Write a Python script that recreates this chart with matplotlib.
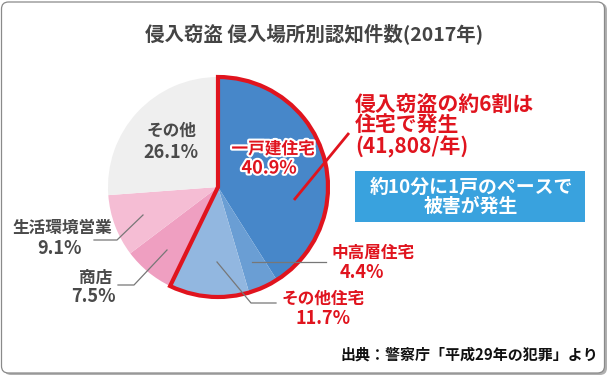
import matplotlib
matplotlib.use("Agg")
import matplotlib.pyplot as plt
import matplotlib.patheffects as pe
from matplotlib.patches import Wedge, FancyBboxPatch, Rectangle
import numpy as np

plt.rcParams['font.family'] = ['Noto Sans CJK JP', 'DejaVu Sans']

categories = ["一戸建住宅", "中高層住宅", "その他住宅", "商店", "生活環境営業", "その他"]
values = [40.9, 4.4, 11.7, 7.5, 9.1, 26.1]
colors = ["#4787c9", "#6a9ed4", "#92b7e0", "#ef9fc1", "#f5bdd4", "#efefef"]
housing = ["一戸建住宅", "中高層住宅", "その他住宅"]
title = "侵入窃盗 侵入場所別認知件数(2017年)"
note = "侵入窃盗の約6割は\n住宅で発生\n(41,808/年)"
box_text = "約10分に1戸のペースで\n被害が発生"
source = "出典：警察庁「平成29年の犯罪」より"

W, H = 609, 376
fig = plt.figure(figsize=(W / 100, H / 100), dpi=100)
ax = fig.add_axes([0, 0, 1, 1])

def Y(y):
    return H - y

# frame with shadow
ax.add_patch(FancyBboxPatch((4, Y(375)), 603, 372, boxstyle="round,pad=0,rounding_size=7",
                            fc="#b0b0b0", ec="none", zorder=0))
ax.add_patch(FancyBboxPatch((1.5, Y(373)), 603, 371, boxstyle="round,pad=0,rounding_size=7",
                            fc="white", ec="#8a8a8a", lw=0.9, zorder=1))

cx, cy, r = 218, Y(187), 110
ax.pie(values, colors=colors, startangle=90, counterclock=False, center=(cx, cy), radius=r,
       wedgeprops=dict(linewidth=0, zorder=2), frame=True)
ax.set_xlim(0, W)
ax.set_ylim(0, H)
ax.set_aspect("equal")
ax.axis("off")

total = sum(values)
hs = sum(v for c, v in zip(categories, values) if c in housing)
ang = hs / total * 360
red = "#e0141e"
ax.add_patch(Wedge((cx, cy), r, 90 - ang, 90, fill=False, ec=red, lw=3.0,
                   joinstyle="miter", zorder=4))

gray_txt = "#4a4a4a"
line_c = "#777777"
fs_lab = 12
fs_pct = 13
fw = "bold"

def lab(x, y, s, color, fs=fs_lab, **kw):
    ax.text(x, Y(y), s, ha="center", va="center", fontsize=fs, color=color,
            fontweight=fw, zorder=5, **kw)

# その他
lab(171, 131, "その他", gray_txt)
lab(171, 153, f"{values[5]}%", gray_txt, fs_pct)

# 一戸建住宅
stroke = [pe.withStroke(linewidth=3, foreground="white")]
lab(273, 149, categories[0], red, path_effects=stroke)
lab(269, 168, f"{values[0]}%", red, fs_pct, path_effects=stroke)

# note line
ax.plot([294, 349], [Y(200), Y(133)], color=red, lw=2.0, zorder=5, solid_capstyle="butt")
ax.text(355, Y(126), note, ha="left", va="center", fontsize=15, color=red,
        fontweight="bold", linespacing=1.0, zorder=5)

# blue box
ax.add_patch(Rectangle((355, Y(222)), 230, 51, fc="#39a2de", ec="none", zorder=5))
ax.text(471, Y(196.5), box_text, ha="center", va="center", fontsize=13.6, color="white",
        fontweight="bold", linespacing=1.0, zorder=6)

# 中高層住宅
ax.plot([252, 326], [Y(262), Y(262)], color=line_c, lw=0.9, zorder=5)
lab(373, 253, categories[1], red)
lab(362, 272, f"{values[1]}%", red, fs_pct)

# その他住宅
ax.plot([217, 251, 276], [Y(262), Y(303), Y(303)], color=line_c, lw=0.9, zorder=5)
lab(323, 299, categories[2], red)
lab(323, 319, f"{values[2]}%", red, fs_pct)

# 生活環境営業
ax.plot([143, 117, 94], [Y(215), Y(240), Y(240)], color=line_c, lw=0.9, zorder=5)
lab(62, 228, categories[4], gray_txt)
lab(60, 249, f"{values[4]}%", gray_txt, fs_pct)

# 商店
ax.plot([167, 134, 118], [Y(250), Y(285), Y(285)], color=line_c, lw=0.9, zorder=5)
lab(96, 278, categories[3], gray_txt)
lab(93, 297, f"{values[3]}%", gray_txt, fs_pct)

# title & source
ax.text(314, Y(34), title, ha="center", va="center", fontsize=14, color="#444444",
        fontweight="bold", zorder=5)
ax.text(598, Y(355), source, ha="right", va="center", fontsize=10.8, color="#111111",
        fontweight="bold", zorder=5)

fig.savefig("out.png", dpi=100)
